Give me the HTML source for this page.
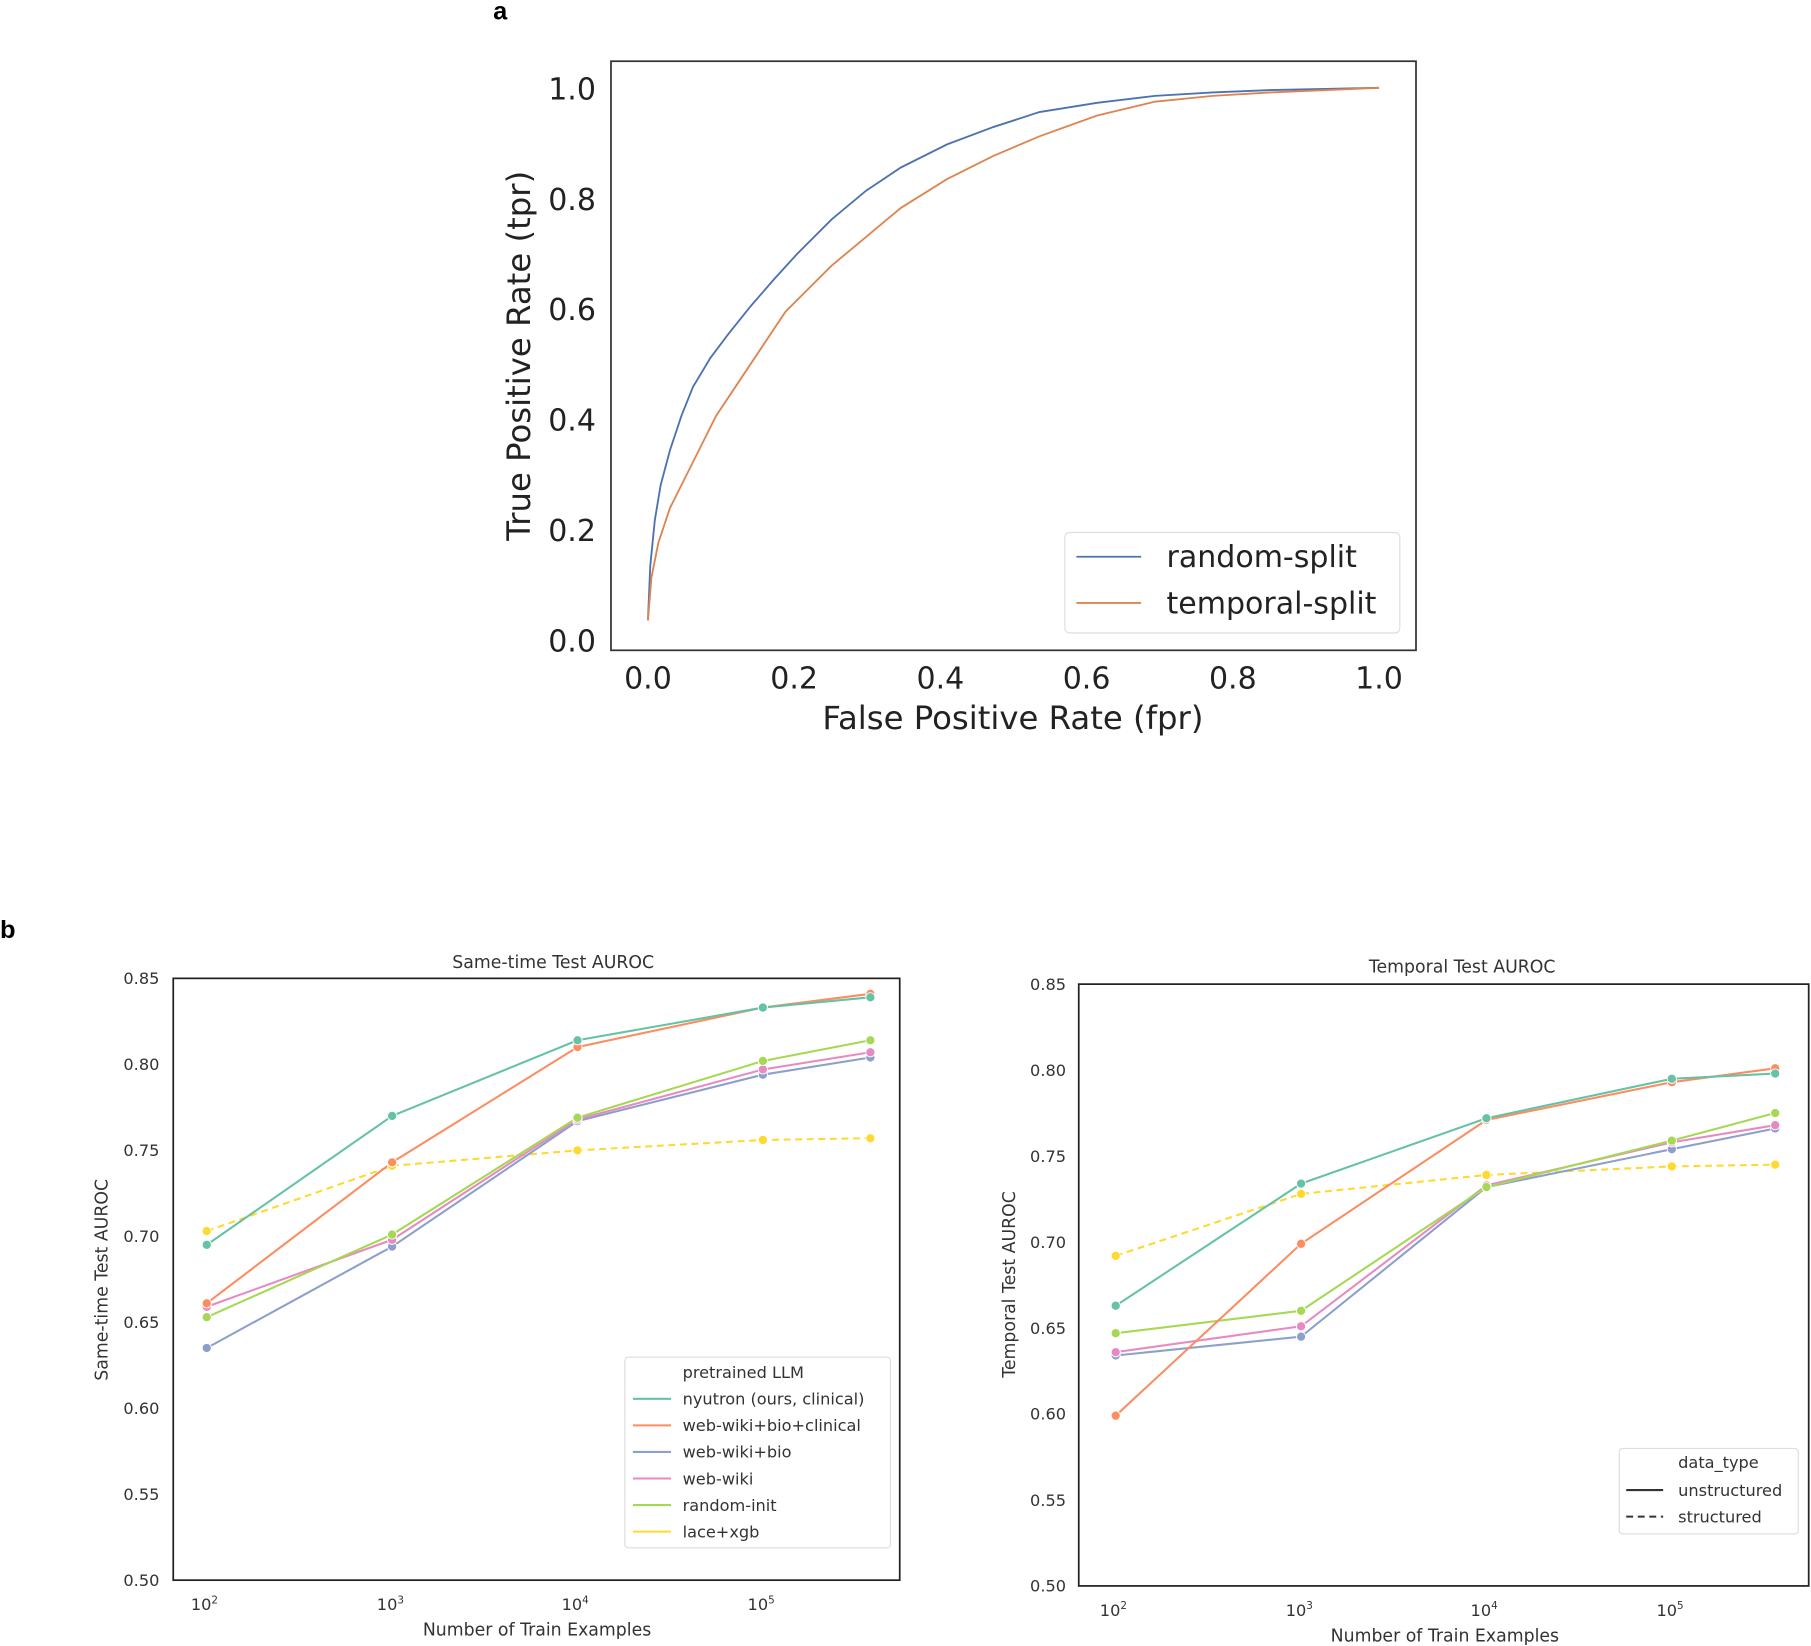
<!DOCTYPE html>
<html><head><meta charset="utf-8"><style>html,body{margin:0;padding:0;background:#fff}svg{display:block}</style></head>
<body>
<svg width="1811" height="1646" viewBox="0 0 1568 1425" preserveAspectRatio="none" xmlns="http://www.w3.org/2000/svg" font-family="'DejaVu Sans','Liberation Sans',sans-serif">
<rect width="1568" height="1425" fill="#fff"/>
<text x="427" y="17" font-size="22" font-weight="bold" font-family="'Liberation Sans',sans-serif">a</text>
<text x="0" y="812" font-size="22" font-weight="bold" font-family="'Liberation Sans',sans-serif">b</text>

<!-- Panel a -->
<rect x="529" y="53" width="697" height="510" fill="none" stroke="#333" stroke-width="1.5"/>
<g font-size="26" fill="#222" text-anchor="end">
<text x="516" y="86">1.0</text><text x="516" y="181.6">0.8</text><text x="516" y="277.2">0.6</text>
<text x="516" y="372.8">0.4</text><text x="516" y="468.4">0.2</text><text x="516" y="564">0.0</text>
</g>
<g font-size="26" fill="#222" text-anchor="middle">
<text x="561" y="596">0.0</text><text x="687.6" y="596">0.2</text><text x="814.2" y="596">0.4</text>
<text x="940.8" y="596">0.6</text><text x="1067.4" y="596">0.8</text><text x="1194" y="596">1.0</text>
<text x="877" y="631" font-size="28">False Positive Rate (fpr)</text>
<text transform="translate(459,308) rotate(-90)" font-size="28">True Positive Rate (tpr)</text>
</g>
<polyline fill="none" stroke="#4c72b0" stroke-width="1.6" points="561,537 563,490 567,450 572,420 580,390 590,360 600,335 615,310 630,290 650,265 670,242 690,220 720,190 750,165 780,145 820,125 860,110 900,97 950,89 1000,83 1050,80 1100,78 1194,76"/>
<polyline fill="none" stroke="#dd8452" stroke-width="1.6" points="561,537 564,500 570,470 580,440 590,420 605,390 620,360 640,330 660,300 680,270 700,250 720,230 750,205 780,180 820,155 860,135 900,118 950,100 1000,88 1050,83 1100,80 1194,76"/>
<rect x="922" y="461" width="290" height="87" rx="4" fill="#fff" stroke="#ddd"/>
<line x1="932" y1="482" x2="988" y2="482" stroke="#4c72b0" stroke-width="1.6"/>
<line x1="932" y1="522" x2="988" y2="522" stroke="#dd8452" stroke-width="1.6"/>
<text x="1010" y="491" font-size="26" fill="#222">random-split</text>
<text x="1010" y="531" font-size="26" fill="#222">temporal-split</text>

<!-- Panel b left -->
<rect x="150" y="847" width="629" height="521" fill="none" stroke="#222" stroke-width="1.5"/>
<g font-size="14" fill="#333" text-anchor="end">
<text x="138" y="852">0.85</text><text x="138" y="926.4">0.80</text><text x="138" y="1000.9">0.75</text><text x="138" y="1075.3">0.70</text>
<text x="138" y="1149.7">0.65</text><text x="138" y="1224.1">0.60</text><text x="138" y="1298.6">0.55</text><text x="138" y="1373">0.50</text>
</g>
<g font-size="14" fill="#333" text-anchor="middle">
<text x="177" y="1394">10<tspan font-size="9" dy="-6">2</tspan></text>
<text x="338" y="1394">10<tspan font-size="9" dy="-6">3</tspan></text>
<text x="498" y="1394">10<tspan font-size="9" dy="-6">4</tspan></text>
<text x="659" y="1394">10<tspan font-size="9" dy="-6">5</tspan></text>
<text x="465" y="1416" font-size="15">Number of Train Examples</text>
<text x="479" y="838" font-size="15">Same-time Test AUROC</text>
<text transform="translate(93,1108) rotate(-90)" font-size="15">Same-time Test AUROC</text>
</g>
<g fill="none" stroke-width="1.8">
<polyline stroke="#ffd92f" stroke-dasharray="6,4" points="179,1065.8 339.5,1009.3 500,995.9 660.5,986.9 753.6,985.4"/>
<polyline stroke="#8da0cb" points="179,1167 339.5,1079.2 500,970.6 660.5,930.4 753.6,915.5"/>
<polyline stroke="#e78ac3" points="179,1131.3 339.5,1073.3 500,969.1 660.5,925.9 753.6,911"/>
<polyline stroke="#a6d854" points="179,1140.3 339.5,1068.8 500,967.6 660.5,918.5 753.6,900.6"/>
<polyline stroke="#fc8d62" points="179,1128.3 339.5,1006.3 500,906.5 660.5,872.3 753.6,860.4"/>
<polyline stroke="#66c2a5" points="179,1077.7 339.5,966.1 500,900.6 660.5,872.3 753.6,863.4"/>
</g>
<g stroke="#fff" stroke-width="0.8">
<g fill="#ffd92f"><circle cx="179" cy="1065.8" r="4"/><circle cx="339.5" cy="1009.3" r="4"/><circle cx="500" cy="995.9" r="4"/><circle cx="660.5" cy="986.9" r="4"/><circle cx="753.6" cy="985.4" r="4"/></g>
<g fill="#8da0cb"><circle cx="179" cy="1167" r="4"/><circle cx="339.5" cy="1079.2" r="4"/><circle cx="500" cy="970.6" r="4"/><circle cx="660.5" cy="930.4" r="4"/><circle cx="753.6" cy="915.5" r="4"/></g>
<g fill="#e78ac3"><circle cx="179" cy="1131.3" r="4"/><circle cx="339.5" cy="1073.3" r="4"/><circle cx="500" cy="969.1" r="4"/><circle cx="660.5" cy="925.9" r="4"/><circle cx="753.6" cy="911" r="4"/></g>
<g fill="#a6d854"><circle cx="179" cy="1140.3" r="4"/><circle cx="339.5" cy="1068.8" r="4"/><circle cx="500" cy="967.6" r="4"/><circle cx="660.5" cy="918.5" r="4"/><circle cx="753.6" cy="900.6" r="4"/></g>
<g fill="#fc8d62"><circle cx="179" cy="1128.3" r="4"/><circle cx="339.5" cy="1006.3" r="4"/><circle cx="500" cy="906.5" r="4"/><circle cx="660.5" cy="872.3" r="4"/><circle cx="753.6" cy="860.4" r="4"/></g>
<g fill="#66c2a5"><circle cx="179" cy="1077.7" r="4"/><circle cx="339.5" cy="966.1" r="4"/><circle cx="500" cy="900.6" r="4"/><circle cx="660.5" cy="872.3" r="4"/><circle cx="753.6" cy="863.4" r="4"/></g>
</g>
<rect x="541" y="1175" width="230" height="165" rx="3" fill="#fff" stroke="#ddd"/>
<g font-size="14" fill="#333">
<text x="591" y="1193">pretrained LLM</text>
<text x="591" y="1216">nyutron (ours, clinical)</text>
<text x="591" y="1239">web-wiki+bio+clinical</text>
<text x="591" y="1262">web-wiki+bio</text>
<text x="591" y="1285">web-wiki</text>
<text x="591" y="1308">random-init</text>
<text x="591" y="1331">lace+xgb</text>
</g>
<g stroke-width="1.8">
<line x1="548" y1="1211" x2="581" y2="1211" stroke="#66c2a5"/>
<line x1="548" y1="1234" x2="581" y2="1234" stroke="#fc8d62"/>
<line x1="548" y1="1257" x2="581" y2="1257" stroke="#8da0cb"/>
<line x1="548" y1="1280" x2="581" y2="1280" stroke="#e78ac3"/>
<line x1="548" y1="1303" x2="581" y2="1303" stroke="#a6d854"/>
<line x1="548" y1="1326" x2="581" y2="1326" stroke="#ffd92f"/>
</g>

<!-- Panel b right -->
<rect x="934" y="852" width="632" height="521" fill="none" stroke="#222" stroke-width="1.5"/>
<g font-size="14" fill="#333" text-anchor="end">
<text x="923" y="857">0.85</text><text x="923" y="931.4">0.80</text><text x="923" y="1005.9">0.75</text><text x="923" y="1080.3">0.70</text>
<text x="923" y="1154.7">0.65</text><text x="923" y="1229.1">0.60</text><text x="923" y="1303.6">0.55</text><text x="923" y="1378">0.50</text>
</g>
<g font-size="14" fill="#333" text-anchor="middle">
<text x="964" y="1399">10<tspan font-size="9" dy="-6">2</tspan></text>
<text x="1125" y="1399">10<tspan font-size="9" dy="-6">3</tspan></text>
<text x="1285" y="1399">10<tspan font-size="9" dy="-6">4</tspan></text>
<text x="1446" y="1399">10<tspan font-size="9" dy="-6">5</tspan></text>
<text x="1251" y="1421" font-size="15">Number of Train Examples</text>
<text x="1266" y="842" font-size="15">Temporal Test AUROC</text>
<text transform="translate(879,1112) rotate(-90)" font-size="15">Temporal Test AUROC</text>
</g>
<g fill="none" stroke-width="1.8">
<polyline stroke="#ffd92f" stroke-dasharray="6,4" points="966,1087.2 1126.5,1033.6 1287,1017.2 1447.5,1009.8 1537,1008.3"/>
<polyline stroke="#8da0cb" points="966,1173.5 1126.5,1157.2 1287,1027.7 1447.5,994.9 1537,977"/>
<polyline stroke="#e78ac3" points="966,1170.6 1126.5,1148.2 1287,1026.2 1447.5,989 1537,974.1"/>
<polyline stroke="#a6d854" points="966,1154.2 1126.5,1134.8 1287,1027.7 1447.5,987.5 1537,963.6"/>
<polyline stroke="#fc8d62" points="966,1225.6 1126.5,1076.8 1287,969.6 1447.5,936.9 1537,924.9"/>
<polyline stroke="#66c2a5" points="966,1130.4 1126.5,1024.7 1287,968.1 1447.5,933.9 1537,929.4"/>
</g>
<g stroke="#fff" stroke-width="0.8">
<g fill="#ffd92f"><circle cx="966" cy="1087.2" r="4"/><circle cx="1126.5" cy="1033.6" r="4"/><circle cx="1287" cy="1017.2" r="4"/><circle cx="1447.5" cy="1009.8" r="4"/><circle cx="1537" cy="1008.3" r="4"/></g>
<g fill="#8da0cb"><circle cx="966" cy="1173.5" r="4"/><circle cx="1126.5" cy="1157.2" r="4"/><circle cx="1287" cy="1027.7" r="4"/><circle cx="1447.5" cy="994.9" r="4"/><circle cx="1537" cy="977" r="4"/></g>
<g fill="#e78ac3"><circle cx="966" cy="1170.6" r="4"/><circle cx="1126.5" cy="1148.2" r="4"/><circle cx="1287" cy="1026.2" r="4"/><circle cx="1447.5" cy="989" r="4"/><circle cx="1537" cy="974.1" r="4"/></g>
<g fill="#a6d854"><circle cx="966" cy="1154.2" r="4"/><circle cx="1126.5" cy="1134.8" r="4"/><circle cx="1287" cy="1027.7" r="4"/><circle cx="1447.5" cy="987.5" r="4"/><circle cx="1537" cy="963.6" r="4"/></g>
<g fill="#fc8d62"><circle cx="966" cy="1225.6" r="4"/><circle cx="1126.5" cy="1076.8" r="4"/><circle cx="1287" cy="969.6" r="4"/><circle cx="1447.5" cy="936.9" r="4"/><circle cx="1537" cy="924.9" r="4"/></g>
<g fill="#66c2a5"><circle cx="966" cy="1130.4" r="4"/><circle cx="1126.5" cy="1024.7" r="4"/><circle cx="1287" cy="968.1" r="4"/><circle cx="1447.5" cy="933.9" r="4"/><circle cx="1537" cy="929.4" r="4"/></g>
</g>
<rect x="1402" y="1254" width="155" height="74" rx="3" fill="#fff" stroke="#ddd"/>
<g font-size="14" fill="#333">
<text x="1453" y="1271">data_type</text>
<text x="1453" y="1295">unstructured</text>
<text x="1453" y="1318">structured</text>
</g>
<line x1="1408" y1="1290" x2="1440" y2="1290" stroke="#333" stroke-width="1.8"/>
<line x1="1408" y1="1313" x2="1440" y2="1313" stroke="#333" stroke-width="1.8" stroke-dasharray="6,4"/>
</svg>
</body></html>
